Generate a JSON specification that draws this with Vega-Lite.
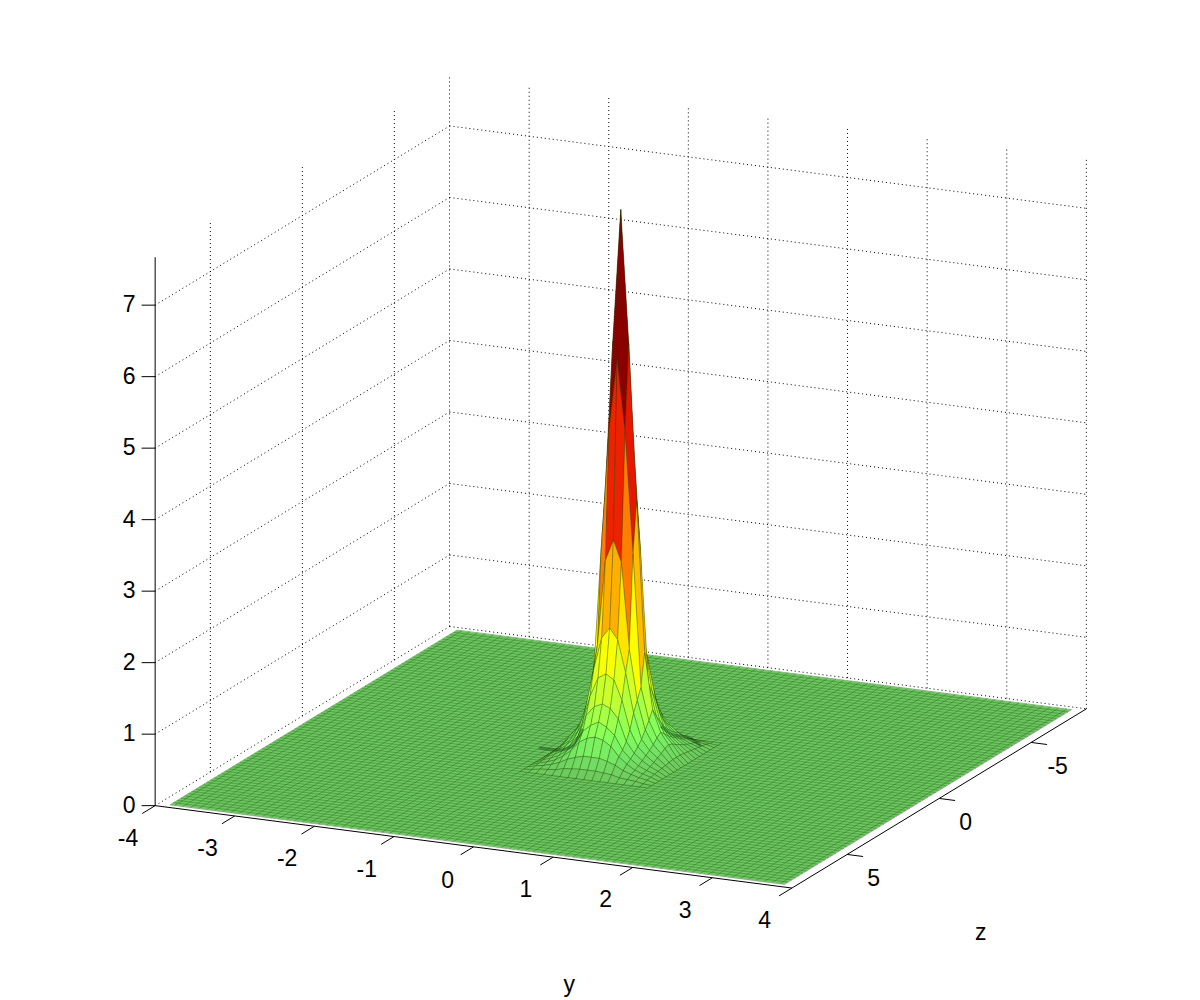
{"$schema":"https://vega.github.io/schema/vega-lite/v6.json","width":1200,"height":1000,"padding":0,"autosize":{"type":"fit","contains":"padding"},"background":"white","config":{"view":{"stroke":null}},
"datasets":{
"rules":[
{"k":"g","y1":-4,"z1":8,"v1":0,"y2":-4,"z2":-8,"v2":0},{"k":"g","y1":-4,"z1":8,"v1":1,"y2":-4,"z2":-8,"v2":1},{"k":"g","y1":-4,"z1":8,"v1":2,"y2":-4,"z2":-8,"v2":2},{"k":"g","y1":-4,"z1":8,"v1":3,"y2":-4,"z2":-8,"v2":3},{"k":"g","y1":-4,"z1":8,"v1":4,"y2":-4,"z2":-8,"v2":4},{"k":"g","y1":-4,"z1":8,"v1":5,"y2":-4,"z2":-8,"v2":5},{"k":"g","y1":-4,"z1":8,"v1":6,"y2":-4,"z2":-8,"v2":6},{"k":"g","y1":-4,"z1":8,"v1":7,"y2":-4,"z2":-8,"v2":7},
{"k":"g","y1":-4,"z1":-8,"v1":0,"y2":4,"z2":-8,"v2":0},{"k":"g","y1":-4,"z1":-8,"v1":1,"y2":4,"z2":-8,"v2":1},{"k":"g","y1":-4,"z1":-8,"v1":2,"y2":4,"z2":-8,"v2":2},{"k":"g","y1":-4,"z1":-8,"v1":3,"y2":4,"z2":-8,"v2":3},{"k":"g","y1":-4,"z1":-8,"v1":4,"y2":4,"z2":-8,"v2":4},{"k":"g","y1":-4,"z1":-8,"v1":5,"y2":4,"z2":-8,"v2":5},{"k":"g","y1":-4,"z1":-8,"v1":6,"y2":4,"z2":-8,"v2":6},{"k":"g","y1":-4,"z1":-8,"v1":7,"y2":4,"z2":-8,"v2":7},
{"k":"g","y1":-4,"z1":5,"v1":0,"y2":-4,"z2":5,"v2":7.68},{"k":"g","y1":-4,"z1":0,"v1":0,"y2":-4,"z2":0,"v2":7.68},{"k":"g","y1":-4,"z1":-5,"v1":0,"y2":-4,"z2":-5,"v2":7.68},{"k":"g","y1":-4,"z1":-8,"v1":0,"y2":-4,"z2":-8,"v2":7.68},
{"k":"g","y1":-3,"z1":-8,"v1":0,"y2":-3,"z2":-8,"v2":7.68},{"k":"g","y1":-2,"z1":-8,"v1":0,"y2":-2,"z2":-8,"v2":7.68},{"k":"g","y1":-1,"z1":-8,"v1":0,"y2":-1,"z2":-8,"v2":7.68},{"k":"g","y1":0,"z1":-8,"v1":0,"y2":0,"z2":-8,"v2":7.68},{"k":"g","y1":1,"z1":-8,"v1":0,"y2":1,"z2":-8,"v2":7.68},{"k":"g","y1":2,"z1":-8,"v1":0,"y2":2,"z2":-8,"v2":7.68},{"k":"g","y1":3,"z1":-8,"v1":0,"y2":3,"z2":-8,"v2":7.68},{"k":"g","y1":4,"z1":-8,"v1":0,"y2":4,"z2":-8,"v2":7.68},
{"k":"a","y1":-4,"z1":8,"v1":0,"y2":4,"z2":8,"v2":0},{"k":"a","y1":4,"z1":8,"v1":0,"y2":4,"z2":-8,"v2":0},{"k":"a","y1":-4,"z1":8,"v1":0,"y2":-4,"z2":8,"v2":7.67},
{"k":"a","y1":-4,"z1":8,"v1":0,"y2":-4.14,"z2":8.13,"v2":0},{"k":"a","y1":-4,"z1":8,"v1":1,"y2":-4.14,"z2":8.13,"v2":1},{"k":"a","y1":-4,"z1":8,"v1":2,"y2":-4.14,"z2":8.13,"v2":2},{"k":"a","y1":-4,"z1":8,"v1":3,"y2":-4.14,"z2":8.13,"v2":3},{"k":"a","y1":-4,"z1":8,"v1":4,"y2":-4.14,"z2":8.13,"v2":4},{"k":"a","y1":-4,"z1":8,"v1":5,"y2":-4.14,"z2":8.13,"v2":5},{"k":"a","y1":-4,"z1":8,"v1":6,"y2":-4.14,"z2":8.13,"v2":6},{"k":"a","y1":-4,"z1":8,"v1":7,"y2":-4.14,"z2":8.13,"v2":7},
{"k":"a","y1":-4,"z1":8,"v1":0,"y2":-4,"z2":8.7,"v2":0},{"k":"a","y1":-3,"z1":8,"v1":0,"y2":-3,"z2":8.7,"v2":0},{"k":"a","y1":-2,"z1":8,"v1":0,"y2":-2,"z2":8.7,"v2":0},{"k":"a","y1":-1,"z1":8,"v1":0,"y2":-1,"z2":8.7,"v2":0},{"k":"a","y1":0,"z1":8,"v1":0,"y2":0,"z2":8.7,"v2":0},{"k":"a","y1":1,"z1":8,"v1":0,"y2":1,"z2":8.7,"v2":0},{"k":"a","y1":2,"z1":8,"v1":0,"y2":2,"z2":8.7,"v2":0},{"k":"a","y1":3,"z1":8,"v1":0,"y2":3,"z2":8.7,"v2":0},{"k":"a","y1":4,"z1":8,"v1":0,"y2":4,"z2":8.7,"v2":0},
{"k":"a","y1":4,"z1":5,"v1":0,"y2":4.2,"z2":5,"v2":0},{"k":"a","y1":4,"z1":0,"v1":0,"y2":4.2,"z2":0,"v2":0},{"k":"a","y1":4,"z1":-5,"v1":0,"y2":4.2,"z2":-5,"v2":0}
],
"labels":[
{"t":"0","y":-4.27,"z":8.25,"v":0},{"t":"1","y":-4.27,"z":8.25,"v":1},{"t":"2","y":-4.27,"z":8.25,"v":2},{"t":"3","y":-4.27,"z":8.25,"v":3},{"t":"4","y":-4.27,"z":8.25,"v":4},{"t":"5","y":-4.27,"z":8.25,"v":5},{"t":"6","y":-4.27,"z":8.25,"v":6},{"t":"7","y":-4.27,"z":8.25,"v":7},
{"t":"-4","y":-3.72,"z":10.69,"v":0},{"t":"-3","y":-2.72,"z":10.69,"v":0},{"t":"-2","y":-1.72,"z":10.69,"v":0},{"t":"-1","y":-0.72,"z":10.69,"v":0},{"t":"0","y":0.31,"z":10.75,"v":0},{"t":"1","y":1.28,"z":10.69,"v":0},{"t":"2","y":2.28,"z":10.69,"v":0},{"t":"3","y":3.28,"z":10.69,"v":0},{"t":"4","y":4.28,"z":10.69,"v":0},
{"t":"5","y":4.7,"z":6.59,"v":0},{"t":"0","y":4.7,"z":1.59,"v":0},{"t":"-5","y":4.7,"z":-3.41,"v":0},
{"t":"y","y":0,"z":2.8,"v":-2.75},{"t":"z","y":4.5,"z":-0.1,"v":-1.82}
],
"floor":[{"o":0,"y":-3.86,"z":-7.8,"v":0},{"o":1,"y":3.86,"z":-7.8,"v":0},{"o":2,"y":3.86,"z":7.8,"v":0},{"o":3,"y":-3.86,"z":7.8,"v":0}],
"shade":[
{"s":"left","o":0,"y":-0.99,"z":0.09,"v":0},{"s":"left","o":1,"y":-0.75,"z":0.05,"v":0},{"s":"left","o":2,"y":-0.7,"z":-0.45,"v":0},{"s":"left","o":3,"y":-0.865,"z":-1.64,"v":0},
{"s":"right","o":0,"y":-0.09,"z":-2.62,"v":0},{"s":"right","o":1,"y":0.16,"z":-2.14,"v":0},{"s":"right","o":2,"y":0.34,"z":-2.12,"v":0},{"s":"right","o":3,"y":0.61,"z":-1.66,"v":0}
],
"mesh":[
{"d":"y","c":-3.8},{"d":"y","c":-3.7},{"d":"y","c":-3.6},{"d":"y","c":-3.5},{"d":"y","c":-3.4},{"d":"y","c":-3.3},{"d":"y","c":-3.2},{"d":"y","c":-3.1},{"d":"y","c":-3},{"d":"y","c":-2.9},{"d":"y","c":-2.8},{"d":"y","c":-2.7},{"d":"y","c":-2.6},{"d":"y","c":-2.5},{"d":"y","c":-2.4},{"d":"y","c":-2.3},{"d":"y","c":-2.2},{"d":"y","c":-2.1},{"d":"y","c":-2},{"d":"y","c":-1.9},{"d":"y","c":-1.8},{"d":"y","c":-1.7},{"d":"y","c":-1.6},{"d":"y","c":-1.5},{"d":"y","c":-1.4},{"d":"y","c":-1.3},{"d":"y","c":-1.2},{"d":"y","c":-1.1},{"d":"y","c":-1},{"d":"y","c":-0.9},{"d":"y","c":-0.8},{"d":"y","c":-0.7},{"d":"y","c":-0.6},{"d":"y","c":-0.5},{"d":"y","c":-0.4},{"d":"y","c":-0.3},{"d":"y","c":-0.2},{"d":"y","c":-0.1},{"d":"y","c":0},{"d":"y","c":0.1},{"d":"y","c":0.2},{"d":"y","c":0.3},{"d":"y","c":0.4},{"d":"y","c":0.5},{"d":"y","c":0.6},{"d":"y","c":0.7},{"d":"y","c":0.8},{"d":"y","c":0.9},{"d":"y","c":1},{"d":"y","c":1.1},{"d":"y","c":1.2},{"d":"y","c":1.3},{"d":"y","c":1.4},{"d":"y","c":1.5},{"d":"y","c":1.6},{"d":"y","c":1.7},{"d":"y","c":1.8},{"d":"y","c":1.9},{"d":"y","c":2},{"d":"y","c":2.1},{"d":"y","c":2.2},{"d":"y","c":2.3},{"d":"y","c":2.4},{"d":"y","c":2.5},{"d":"y","c":2.6},{"d":"y","c":2.7},{"d":"y","c":2.8},{"d":"y","c":2.9},{"d":"y","c":3},{"d":"y","c":3.1},{"d":"y","c":3.2},{"d":"y","c":3.3},{"d":"y","c":3.4},{"d":"y","c":3.5},{"d":"y","c":3.6},{"d":"y","c":3.7},{"d":"y","c":3.8},
{"d":"z","c":-7.6},{"d":"z","c":-7.4},{"d":"z","c":-7.2},{"d":"z","c":-7},{"d":"z","c":-6.8},{"d":"z","c":-6.6},{"d":"z","c":-6.4},{"d":"z","c":-6.2},{"d":"z","c":-6},{"d":"z","c":-5.8},{"d":"z","c":-5.6},{"d":"z","c":-5.4},{"d":"z","c":-5.2},{"d":"z","c":-5},{"d":"z","c":-4.8},{"d":"z","c":-4.6},{"d":"z","c":-4.4},{"d":"z","c":-4.2},{"d":"z","c":-4},{"d":"z","c":-3.8},{"d":"z","c":-3.6},{"d":"z","c":-3.4},{"d":"z","c":-3.2},{"d":"z","c":-3},{"d":"z","c":-2.8},{"d":"z","c":-2.6},{"d":"z","c":-2.4},{"d":"z","c":-2.2},{"d":"z","c":-2},{"d":"z","c":-1.8},{"d":"z","c":-1.6},{"d":"z","c":-1.4},{"d":"z","c":-1.2},{"d":"z","c":-1},{"d":"z","c":-0.8},{"d":"z","c":-0.6},{"d":"z","c":-0.4},{"d":"z","c":-0.2},{"d":"z","c":0},{"d":"z","c":0.2},{"d":"z","c":0.4},{"d":"z","c":0.6},{"d":"z","c":0.8},{"d":"z","c":1},{"d":"z","c":1.2},{"d":"z","c":1.4},{"d":"z","c":1.6},{"d":"z","c":1.8},{"d":"z","c":2},{"d":"z","c":2.2},{"d":"z","c":2.4},{"d":"z","c":2.6},{"d":"z","c":2.8},{"d":"z","c":3},{"d":"z","c":3.2},{"d":"z","c":3.4},{"d":"z","c":3.6},{"d":"z","c":3.8},{"d":"z","c":4},{"d":"z","c":4.2},{"d":"z","c":4.4},{"d":"z","c":4.6},{"d":"z","c":4.8},{"d":"z","c":5},{"d":"z","c":5.2},{"d":"z","c":5.4},{"d":"z","c":5.6},{"d":"z","c":5.8},{"d":"z","c":6},{"d":"z","c":6.2},{"d":"z","c":6.4},{"d":"z","c":6.6},{"d":"z","c":6.8},{"d":"z","c":7},{"d":"z","c":7.2},{"d":"z","c":7.4},{"d":"z","c":7.6}
],
"surface":[
{"y":-0.8,"z":-2,"v":0},{"y":-0.7,"z":-2,"v":0},{"y":-0.6,"z":-2,"v":0},{"y":-0.5,"z":-2,"v":0},{"y":-0.4,"z":-2,"v":0},{"y":-0.3,"z":-2,"v":0},{"y":-0.2,"z":-2,"v":0},{"y":-0.1,"z":-2,"v":0},{"y":0,"z":-2,"v":0},{"y":0.1,"z":-2,"v":0},{"y":0.2,"z":-2,"v":0},{"y":0.3,"z":-2,"v":0},{"y":0.4,"z":-2,"v":0},{"y":0.5,"z":-2,"v":0},{"y":0.6,"z":-2,"v":0},{"y":0.7,"z":-2,"v":0},{"y":0.8,"z":-2,"v":0},
{"y":-0.8,"z":-1.8,"v":0},{"y":-0.7,"z":-1.8,"v":0.01},{"y":-0.6,"z":-1.8,"v":0.03},{"y":-0.5,"z":-1.8,"v":0.04},{"y":-0.4,"z":-1.8,"v":0.05},{"y":-0.3,"z":-1.8,"v":0.08},{"y":-0.2,"z":-1.8,"v":0.09},{"y":-0.1,"z":-1.8,"v":0.1},{"y":0,"z":-1.8,"v":0.1},{"y":0.1,"z":-1.8,"v":0.1},{"y":0.2,"z":-1.8,"v":0.09},{"y":0.3,"z":-1.8,"v":0.08},{"y":0.4,"z":-1.8,"v":0.05},{"y":0.5,"z":-1.8,"v":0.04},{"y":0.6,"z":-1.8,"v":0.03},{"y":0.7,"z":-1.8,"v":0.01},{"y":0.8,"z":-1.8,"v":0},
{"y":-0.8,"z":-1.6,"v":0},{"y":-0.7,"z":-1.6,"v":0.03},{"y":-0.6,"z":-1.6,"v":0.05},{"y":-0.5,"z":-1.6,"v":0.08},{"y":-0.4,"z":-1.6,"v":0.12},{"y":-0.3,"z":-1.6,"v":0.18},{"y":-0.2,"z":-1.6,"v":0.22},{"y":-0.1,"z":-1.6,"v":0.25},{"y":0,"z":-1.6,"v":0.25},{"y":0.1,"z":-1.6,"v":0.25},{"y":0.2,"z":-1.6,"v":0.22},{"y":0.3,"z":-1.6,"v":0.18},{"y":0.4,"z":-1.6,"v":0.12},{"y":0.5,"z":-1.6,"v":0.08},{"y":0.6,"z":-1.6,"v":0.05},{"y":0.7,"z":-1.6,"v":0.03},{"y":0.8,"z":-1.6,"v":0},
{"y":-0.8,"z":-1.4,"v":0},{"y":-0.7,"z":-1.4,"v":0.04},{"y":-0.6,"z":-1.4,"v":0.07},{"y":-0.5,"z":-1.4,"v":0.11},{"y":-0.4,"z":-1.4,"v":0.18},{"y":-0.3,"z":-1.4,"v":0.27},{"y":-0.2,"z":-1.4,"v":0.4},{"y":-0.1,"z":-1.4,"v":0.47},{"y":0,"z":-1.4,"v":0.5},{"y":0.1,"z":-1.4,"v":0.47},{"y":0.2,"z":-1.4,"v":0.4},{"y":0.3,"z":-1.4,"v":0.27},{"y":0.4,"z":-1.4,"v":0.18},{"y":0.5,"z":-1.4,"v":0.11},{"y":0.6,"z":-1.4,"v":0.07},{"y":0.7,"z":-1.4,"v":0.04},{"y":0.8,"z":-1.4,"v":0},
{"y":-0.8,"z":-1.2,"v":0},{"y":-0.7,"z":-1.2,"v":0.05},{"y":-0.6,"z":-1.2,"v":0.09},{"y":-0.5,"z":-1.2,"v":0.14},{"y":-0.4,"z":-1.2,"v":0.22},{"y":-0.3,"z":-1.2,"v":0.33},{"y":-0.2,"z":-1.2,"v":0.52},{"y":-0.1,"z":-1.2,"v":0.62},{"y":0,"z":-1.2,"v":0.68},{"y":0.1,"z":-1.2,"v":0.62},{"y":0.2,"z":-1.2,"v":0.52},{"y":0.3,"z":-1.2,"v":0.33},{"y":0.4,"z":-1.2,"v":0.22},{"y":0.5,"z":-1.2,"v":0.14},{"y":0.6,"z":-1.2,"v":0.09},{"y":0.7,"z":-1.2,"v":0.05},{"y":0.8,"z":-1.2,"v":0},
{"y":-0.8,"z":-1,"v":0},{"y":-0.7,"z":-1,"v":0.06},{"y":-0.6,"z":-1,"v":0.11},{"y":-0.5,"z":-1,"v":0.18},{"y":-0.4,"z":-1,"v":0.27},{"y":-0.3,"z":-1,"v":0.42},{"y":-0.2,"z":-1,"v":0.72},{"y":-0.1,"z":-1,"v":0.85},{"y":0,"z":-1,"v":0.9},{"y":0.1,"z":-1,"v":0.85},{"y":0.2,"z":-1,"v":0.72},{"y":0.3,"z":-1,"v":0.42},{"y":0.4,"z":-1,"v":0.27},{"y":0.5,"z":-1,"v":0.18},{"y":0.6,"z":-1,"v":0.11},{"y":0.7,"z":-1,"v":0.06},{"y":0.8,"z":-1,"v":0},
{"y":-0.8,"z":-0.8,"v":0},{"y":-0.7,"z":-0.8,"v":0.07},{"y":-0.6,"z":-0.8,"v":0.14},{"y":-0.5,"z":-0.8,"v":0.22},{"y":-0.4,"z":-0.8,"v":0.33},{"y":-0.3,"z":-0.8,"v":0.55},{"y":-0.2,"z":-0.8,"v":0.95},{"y":-0.1,"z":-0.8,"v":1.22},{"y":0,"z":-0.8,"v":1.29},{"y":0.1,"z":-0.8,"v":1.22},{"y":0.2,"z":-0.8,"v":0.95},{"y":0.3,"z":-0.8,"v":0.55},{"y":0.4,"z":-0.8,"v":0.33},{"y":0.5,"z":-0.8,"v":0.22},{"y":0.6,"z":-0.8,"v":0.14},{"y":0.7,"z":-0.8,"v":0.07},{"y":0.8,"z":-0.8,"v":0},
{"y":-0.8,"z":-0.6,"v":0},{"y":-0.7,"z":-0.6,"v":0.08},{"y":-0.6,"z":-0.6,"v":0.17},{"y":-0.5,"z":-0.6,"v":0.26},{"y":-0.4,"z":-0.6,"v":0.4},{"y":-0.3,"z":-0.6,"v":0.75},{"y":-0.2,"z":-0.6,"v":1.3},{"y":-0.1,"z":-0.6,"v":1.75},{"y":0,"z":-0.6,"v":1.9},{"y":0.1,"z":-0.6,"v":1.75},{"y":0.2,"z":-0.6,"v":1.3},{"y":0.3,"z":-0.6,"v":0.75},{"y":0.4,"z":-0.6,"v":0.4},{"y":0.5,"z":-0.6,"v":0.26},{"y":0.6,"z":-0.6,"v":0.17},{"y":0.7,"z":-0.6,"v":0.08},{"y":0.8,"z":-0.6,"v":0},
{"y":-0.8,"z":-0.4,"v":0},{"y":-0.7,"z":-0.4,"v":0.09},{"y":-0.6,"z":-0.4,"v":0.2},{"y":-0.5,"z":-0.4,"v":0.31},{"y":-0.4,"z":-0.4,"v":0.5},{"y":-0.3,"z":-0.4,"v":0.9},{"y":-0.2,"z":-0.4,"v":1.6},{"y":-0.1,"z":-0.4,"v":2.8},{"y":0,"z":-0.4,"v":3.1},{"y":0.1,"z":-0.4,"v":2.8},{"y":0.2,"z":-0.4,"v":1.6},{"y":0.3,"z":-0.4,"v":0.9},{"y":0.4,"z":-0.4,"v":0.5},{"y":0.5,"z":-0.4,"v":0.31},{"y":0.6,"z":-0.4,"v":0.2},{"y":0.7,"z":-0.4,"v":0.09},{"y":0.8,"z":-0.4,"v":0},
{"y":-0.8,"z":-0.2,"v":0},{"y":-0.7,"z":-0.2,"v":0.1},{"y":-0.6,"z":-0.2,"v":0.24},{"y":-0.5,"z":-0.2,"v":0.37},{"y":-0.4,"z":-0.2,"v":0.6},{"y":-0.3,"z":-0.2,"v":1.05},{"y":-0.2,"z":-0.2,"v":2.9},{"y":-0.1,"z":-0.2,"v":4.6},{"y":0,"z":-0.2,"v":5.6},{"y":0.1,"z":-0.2,"v":4.6},{"y":0.2,"z":-0.2,"v":2.9},{"y":0.3,"z":-0.2,"v":1.05},{"y":0.4,"z":-0.2,"v":0.6},{"y":0.5,"z":-0.2,"v":0.37},{"y":0.6,"z":-0.2,"v":0.24},{"y":0.7,"z":-0.2,"v":0.1},{"y":0.8,"z":-0.2,"v":0},
{"y":-0.8,"z":0,"v":0},{"y":-0.7,"z":0,"v":0.1},{"y":-0.6,"z":0,"v":0.26},{"y":-0.5,"z":0,"v":0.42},{"y":-0.4,"z":0,"v":0.72},{"y":-0.3,"z":0,"v":1.5},{"y":-0.2,"z":0,"v":3.6},{"y":-0.1,"z":0,"v":5.8},{"y":0,"z":0,"v":7.66},{"y":0.1,"z":0,"v":5.8},{"y":0.2,"z":0,"v":3.6},{"y":0.3,"z":0,"v":1.5},{"y":0.4,"z":0,"v":0.72},{"y":0.5,"z":0,"v":0.42},{"y":0.6,"z":0,"v":0.26},{"y":0.7,"z":0,"v":0.1},{"y":0.8,"z":0,"v":0},
{"y":-0.8,"z":0.2,"v":0},{"y":-0.7,"z":0.2,"v":0.1},{"y":-0.6,"z":0.2,"v":0.24},{"y":-0.5,"z":0.2,"v":0.37},{"y":-0.4,"z":0.2,"v":0.6},{"y":-0.3,"z":0.2,"v":1.05},{"y":-0.2,"z":0.2,"v":2.9},{"y":-0.1,"z":0.2,"v":4.6},{"y":0,"z":0.2,"v":5.6},{"y":0.1,"z":0.2,"v":4.6},{"y":0.2,"z":0.2,"v":2.9},{"y":0.3,"z":0.2,"v":1.05},{"y":0.4,"z":0.2,"v":0.6},{"y":0.5,"z":0.2,"v":0.37},{"y":0.6,"z":0.2,"v":0.24},{"y":0.7,"z":0.2,"v":0.1},{"y":0.8,"z":0.2,"v":0},
{"y":-0.8,"z":0.4,"v":0},{"y":-0.7,"z":0.4,"v":0.09},{"y":-0.6,"z":0.4,"v":0.2},{"y":-0.5,"z":0.4,"v":0.31},{"y":-0.4,"z":0.4,"v":0.5},{"y":-0.3,"z":0.4,"v":0.9},{"y":-0.2,"z":0.4,"v":1.6},{"y":-0.1,"z":0.4,"v":2.8},{"y":0,"z":0.4,"v":3.1},{"y":0.1,"z":0.4,"v":2.8},{"y":0.2,"z":0.4,"v":1.6},{"y":0.3,"z":0.4,"v":0.9},{"y":0.4,"z":0.4,"v":0.5},{"y":0.5,"z":0.4,"v":0.31},{"y":0.6,"z":0.4,"v":0.2},{"y":0.7,"z":0.4,"v":0.09},{"y":0.8,"z":0.4,"v":0},
{"y":-0.8,"z":0.6,"v":0},{"y":-0.7,"z":0.6,"v":0.08},{"y":-0.6,"z":0.6,"v":0.17},{"y":-0.5,"z":0.6,"v":0.26},{"y":-0.4,"z":0.6,"v":0.4},{"y":-0.3,"z":0.6,"v":0.75},{"y":-0.2,"z":0.6,"v":1.3},{"y":-0.1,"z":0.6,"v":1.75},{"y":0,"z":0.6,"v":1.9},{"y":0.1,"z":0.6,"v":1.75},{"y":0.2,"z":0.6,"v":1.3},{"y":0.3,"z":0.6,"v":0.75},{"y":0.4,"z":0.6,"v":0.4},{"y":0.5,"z":0.6,"v":0.26},{"y":0.6,"z":0.6,"v":0.17},{"y":0.7,"z":0.6,"v":0.08},{"y":0.8,"z":0.6,"v":0},
{"y":-0.8,"z":0.8,"v":0},{"y":-0.7,"z":0.8,"v":0.07},{"y":-0.6,"z":0.8,"v":0.14},{"y":-0.5,"z":0.8,"v":0.22},{"y":-0.4,"z":0.8,"v":0.33},{"y":-0.3,"z":0.8,"v":0.55},{"y":-0.2,"z":0.8,"v":0.95},{"y":-0.1,"z":0.8,"v":1.22},{"y":0,"z":0.8,"v":1.29},{"y":0.1,"z":0.8,"v":1.22},{"y":0.2,"z":0.8,"v":0.95},{"y":0.3,"z":0.8,"v":0.55},{"y":0.4,"z":0.8,"v":0.33},{"y":0.5,"z":0.8,"v":0.22},{"y":0.6,"z":0.8,"v":0.14},{"y":0.7,"z":0.8,"v":0.07},{"y":0.8,"z":0.8,"v":0},
{"y":-0.8,"z":1,"v":0},{"y":-0.7,"z":1,"v":0.06},{"y":-0.6,"z":1,"v":0.11},{"y":-0.5,"z":1,"v":0.18},{"y":-0.4,"z":1,"v":0.27},{"y":-0.3,"z":1,"v":0.42},{"y":-0.2,"z":1,"v":0.72},{"y":-0.1,"z":1,"v":0.85},{"y":0,"z":1,"v":0.9},{"y":0.1,"z":1,"v":0.85},{"y":0.2,"z":1,"v":0.72},{"y":0.3,"z":1,"v":0.42},{"y":0.4,"z":1,"v":0.27},{"y":0.5,"z":1,"v":0.18},{"y":0.6,"z":1,"v":0.11},{"y":0.7,"z":1,"v":0.06},{"y":0.8,"z":1,"v":0},
{"y":-0.8,"z":1.2,"v":0},{"y":-0.7,"z":1.2,"v":0.05},{"y":-0.6,"z":1.2,"v":0.09},{"y":-0.5,"z":1.2,"v":0.14},{"y":-0.4,"z":1.2,"v":0.22},{"y":-0.3,"z":1.2,"v":0.33},{"y":-0.2,"z":1.2,"v":0.52},{"y":-0.1,"z":1.2,"v":0.62},{"y":0,"z":1.2,"v":0.68},{"y":0.1,"z":1.2,"v":0.62},{"y":0.2,"z":1.2,"v":0.52},{"y":0.3,"z":1.2,"v":0.33},{"y":0.4,"z":1.2,"v":0.22},{"y":0.5,"z":1.2,"v":0.14},{"y":0.6,"z":1.2,"v":0.09},{"y":0.7,"z":1.2,"v":0.05},{"y":0.8,"z":1.2,"v":0},
{"y":-0.8,"z":1.4,"v":0},{"y":-0.7,"z":1.4,"v":0.04},{"y":-0.6,"z":1.4,"v":0.07},{"y":-0.5,"z":1.4,"v":0.11},{"y":-0.4,"z":1.4,"v":0.18},{"y":-0.3,"z":1.4,"v":0.27},{"y":-0.2,"z":1.4,"v":0.4},{"y":-0.1,"z":1.4,"v":0.47},{"y":0,"z":1.4,"v":0.5},{"y":0.1,"z":1.4,"v":0.47},{"y":0.2,"z":1.4,"v":0.4},{"y":0.3,"z":1.4,"v":0.27},{"y":0.4,"z":1.4,"v":0.18},{"y":0.5,"z":1.4,"v":0.11},{"y":0.6,"z":1.4,"v":0.07},{"y":0.7,"z":1.4,"v":0.04},{"y":0.8,"z":1.4,"v":0},
{"y":-0.8,"z":1.6,"v":0},{"y":-0.7,"z":1.6,"v":0.03},{"y":-0.6,"z":1.6,"v":0.05},{"y":-0.5,"z":1.6,"v":0.08},{"y":-0.4,"z":1.6,"v":0.12},{"y":-0.3,"z":1.6,"v":0.18},{"y":-0.2,"z":1.6,"v":0.22},{"y":-0.1,"z":1.6,"v":0.25},{"y":0,"z":1.6,"v":0.25},{"y":0.1,"z":1.6,"v":0.25},{"y":0.2,"z":1.6,"v":0.22},{"y":0.3,"z":1.6,"v":0.18},{"y":0.4,"z":1.6,"v":0.12},{"y":0.5,"z":1.6,"v":0.08},{"y":0.6,"z":1.6,"v":0.05},{"y":0.7,"z":1.6,"v":0.03},{"y":0.8,"z":1.6,"v":0},
{"y":-0.8,"z":1.8,"v":0},{"y":-0.7,"z":1.8,"v":0.01},{"y":-0.6,"z":1.8,"v":0.03},{"y":-0.5,"z":1.8,"v":0.04},{"y":-0.4,"z":1.8,"v":0.05},{"y":-0.3,"z":1.8,"v":0.08},{"y":-0.2,"z":1.8,"v":0.09},{"y":-0.1,"z":1.8,"v":0.1},{"y":0,"z":1.8,"v":0.1},{"y":0.1,"z":1.8,"v":0.1},{"y":0.2,"z":1.8,"v":0.09},{"y":0.3,"z":1.8,"v":0.08},{"y":0.4,"z":1.8,"v":0.05},{"y":0.5,"z":1.8,"v":0.04},{"y":0.6,"z":1.8,"v":0.03},{"y":0.7,"z":1.8,"v":0.01},{"y":0.8,"z":1.8,"v":0},
{"y":-0.8,"z":2,"v":0},{"y":-0.7,"z":2,"v":0},{"y":-0.6,"z":2,"v":0},{"y":-0.5,"z":2,"v":0},{"y":-0.4,"z":2,"v":0},{"y":-0.3,"z":2,"v":0},{"y":-0.2,"z":2,"v":0},{"y":-0.1,"z":2,"v":0},{"y":0,"z":2,"v":0},{"y":0.1,"z":2,"v":0},{"y":0.2,"z":2,"v":0},{"y":0.3,"z":2,"v":0},{"y":0.4,"z":2,"v":0},{"y":0.5,"z":2,"v":0},{"y":0.6,"z":2,"v":0},{"y":0.7,"z":2,"v":0},{"y":0.8,"z":2,"v":0}
]
},
"encoding":{
"x":{"field":"sx","type":"quantitative","scale":{"domain":[0,1200]},"axis":null},
"y":{"field":"sy","type":"quantitative","scale":{"domain":[1000,0]},"axis":null}
},
"layer":[
{"data":{"name":"rules"},"transform":[{"filter":"datum.k=='g'"},{"calculate":"620.75+79.6*datum.y1-18.4*datum.z1","as":"sx"},{"calculate":"757.25+10.3*datum.y1+11.2*datum.z1-71.5*datum.v1","as":"sy"},{"calculate":"620.75+79.6*datum.y2-18.4*datum.z2","as":"sx2"},{"calculate":"757.25+10.3*datum.y2+11.2*datum.z2-71.5*datum.v2","as":"sy2"}],
"mark":{"type":"rule","color":"#000","strokeWidth":1,"strokeDash":[1,3]},"encoding":{"x2":{"field":"sx2"},"y2":{"field":"sy2"}}},
{"data":{"name":"floor"},"transform":[{"calculate":"620.75+79.6*datum.y-18.4*datum.z","as":"sx"},{"calculate":"757.25+10.3*datum.y+11.2*datum.z-71.5*datum.v","as":"sy"}],
"mark":{"type":"line","interpolate":"linear-closed","fill":"#6cc85e","stroke":"#8fb889","strokeWidth":1},"encoding":{"order":{"field":"o"}}},
{"data":{"name":"mesh"},"transform":[{"calculate":"datum.d=='y'?datum.c:-3.86","as":"y1"},{"calculate":"datum.d=='y'?datum.c:3.86","as":"y2"},{"calculate":"datum.d=='z'?datum.c:-7.8","as":"z1"},{"calculate":"datum.d=='z'?datum.c:7.8","as":"z2"},{"calculate":"620.75+79.6*datum.y1-18.4*datum.z1","as":"sx"},{"calculate":"757.25+10.3*datum.y1+11.2*datum.z1","as":"sy"},{"calculate":"620.75+79.6*datum.y2-18.4*datum.z2","as":"sx2"},{"calculate":"757.25+10.3*datum.y2+11.2*datum.z2","as":"sy2"}],
"mark":{"type":"rule","color":"#1a4a14","strokeWidth":0.7,"opacity":0.45},"encoding":{"x2":{"field":"sx2"},"y2":{"field":"sy2"}}},
{"data":{"name":"surface"},"transform":[
{"calculate":"round(datum.y*10)","as":"i"},{"calculate":"round(datum.z*5)","as":"j"},
{"calculate":"[0,1,2,3]","as":"c"},{"flatten":["c"]},
{"calculate":"datum.i-((datum.c==1||datum.c==2)?1:0)","as":"a"},{"calculate":"datum.j-(datum.c>=2?1:0)","as":"b"},
{"filter":"datum.a>=-8&&datum.a<=7&&datum.b>=-10&&datum.b<=9"},
{"calculate":"datum.a+'_'+datum.b","as":"cell"},
{"joinaggregate":[{"op":"mean","field":"v","as":"m"}],"groupby":["cell"]},
{"calculate":"620.75+79.6*datum.y-18.4*datum.z","as":"sx"},{"calculate":"757.25+10.3*datum.y+11.2*datum.z-71.5*datum.v","as":"sy"}],
"mark":{"type":"line","interpolate":"linear-closed","stroke":"#1a4000","strokeWidth":0.7,"strokeOpacity":0.45},
"encoding":{"detail":{"field":"cell"},"order":{"field":"c"},"fill":{"field":"m","type":"quantitative","legend":null,"scale":{"domain":[0,0.08,0.25,0.5,1,1.6,2.4,3.2,3.9,4.5,5.9],"range":["#6cc85e","#6fcf60","#74e566","#84ff5c","#c4ff30","#ffff00","#ffae00","#ff6800","#f02800","#dc0000","#8c0000"]}}}},
{"data":{"name":"shade"},"transform":[{"calculate":"620.75+79.6*datum.y-18.4*datum.z","as":"sx"},{"calculate":"757.25+10.3*datum.y+11.2*datum.z-71.5*datum.v","as":"sy"}],
"mark":{"type":"line","color":"#0c3010","strokeWidth":3,"opacity":0.4,"strokeCap":"round","interpolate":"monotone"},"encoding":{"detail":{"field":"s"},"order":{"field":"o"}}},
{"data":{"name":"rules"},"transform":[{"filter":"datum.k=='a'"},{"calculate":"620.75+79.6*datum.y1-18.4*datum.z1","as":"sx"},{"calculate":"757.25+10.3*datum.y1+11.2*datum.z1-71.5*datum.v1","as":"sy"},{"calculate":"620.75+79.6*datum.y2-18.4*datum.z2","as":"sx2"},{"calculate":"757.25+10.3*datum.y2+11.2*datum.z2-71.5*datum.v2","as":"sy2"}],
"mark":{"type":"rule","color":"#000","strokeWidth":1},"encoding":{"x2":{"field":"sx2"},"y2":{"field":"sy2"}}},
{"data":{"name":"labels"},"transform":[{"calculate":"620.75+79.6*datum.y-18.4*datum.z","as":"sx"},{"calculate":"757.25+10.3*datum.y+11.2*datum.z-71.5*datum.v","as":"sy"}],
"mark":{"type":"text","font":"Liberation Sans","fontSize":23,"color":"#000","align":"center","baseline":"middle"},"encoding":{"text":{"field":"t"}}}
]}
